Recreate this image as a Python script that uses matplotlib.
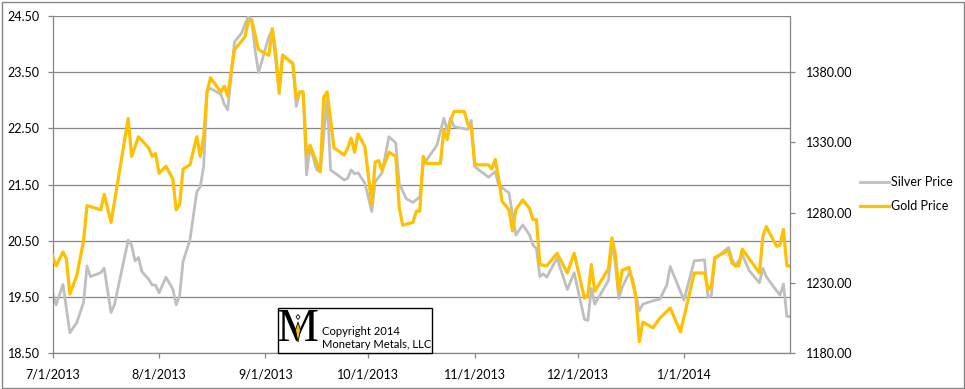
import numpy as np
import matplotlib
matplotlib.use("Agg")
import matplotlib.pyplot as plt
from matplotlib.patches import Rectangle, Polygon
from matplotlib.lines import Line2D
from matplotlib.ticker import FuncFormatter, FixedLocator
import matplotlib.dates as mdates

plt.rcParams['font.family'] = ['Lato', 'DejaVu Sans']

# days after 2013-07-01
silver_day = [0, 1, 3, 5, 7, 9, 10, 11, 14, 15, 17, 18, 22, 23, 24, 25, 26, 28, 29, 30,
              31, 33, 35, 36, 37, 38, 40, 42, 43, 44, 45, 46, 49, 50, 51, 53, 55, 57, 58, 59,
              60, 63, 64, 65, 66, 67, 70, 71, 72, 73, 74, 75, 77, 78, 80, 81, 85, 86, 87, 88,
              89, 91, 93, 94, 96, 98, 100, 101, 103, 105, 107, 108, 112, 114, 115, 116, 117, 121, 122, 123,
              124, 127, 129, 130, 133, 135, 137, 139, 140, 141, 142, 143, 144, 147, 150, 152, 155, 156, 157, 158,
              162, 163, 164, 165, 166, 168, 169, 170, 171, 172, 175, 177, 179, 180, 184, 187, 190, 191, 192, 193,
              197, 198, 199, 201, 203, 206, 207, 208, 210, 212, 213, 214, 215]
silver_price = [19.56, 19.36, 19.72, 18.86, 19.04, 19.40, 20.05, 19.86, 19.93, 20.01, 19.22, 19.36, 20.51, 20.42, 20.14, 20.20, 19.95, 19.81, 19.71, 19.71,
                19.57, 19.85, 19.64, 19.36, 19.52, 20.13, 20.51, 21.37, 21.46, 21.82, 23.18, 23.21, 23.11, 22.93, 22.83, 24.04, 24.19, 24.49, 24.43, 23.89,
                23.49, 24.13, 24.25, 23.72, 23.18, 23.81, 23.66, 22.89, 23.15, 23.13, 21.67, 22.17, 21.76, 21.73, 23.03, 21.76, 21.58, 21.61, 21.76, 21.69,
                21.71, 21.52, 21.02, 21.55, 21.71, 22.35, 22.24, 21.52, 21.25, 21.18, 21.28, 21.85, 22.20, 22.68, 22.47, 22.68, 22.53, 22.48, 22.64, 21.82,
                21.77, 21.63, 21.73, 21.49, 21.35, 20.60, 20.78, 20.60, 20.42, 20.36, 19.86, 19.91, 19.85, 20.19, 19.63, 19.93, 19.10, 19.08, 19.65, 19.37,
                19.79, 20.46, 20.10, 19.47, 19.67, 19.92, 19.83, 19.52, 19.25, 19.37, 19.43, 19.46, 19.71, 20.04, 19.44, 20.14, 20.16, 19.49, 19.53, 20.17,
                20.38, 20.17, 20.05, 20.25, 19.97, 19.75, 20.01, 19.86, 19.69, 19.53, 19.73, 19.15, 19.15]

gold_day = [0, 1, 3, 4, 5, 7, 9, 10, 14, 15, 17, 22, 23, 25, 28, 29, 30, 31, 33, 35,
            36, 37, 38, 40, 42, 43, 44, 45, 46, 49, 50, 51, 53, 56, 57, 58, 60, 63, 64, 65,
            66, 67, 70, 71, 72, 73, 74, 75, 78, 79, 80, 82, 85, 86, 87, 88, 89, 91, 93, 94,
            95, 96, 98, 100, 101, 102, 105, 106, 107, 108, 109, 113, 114, 115, 116, 117, 120, 121, 122, 123,
            124, 127, 128, 129, 130, 131, 133, 134, 135, 137, 139, 140, 141, 142, 144, 147, 150, 152, 155, 156,
            157, 158, 162, 163, 164, 165, 166, 168, 170, 171, 172, 175, 177, 180, 183, 185, 187, 190, 191, 192,
            193, 197, 198, 199, 200, 201, 206, 207, 208, 211, 212, 213, 214, 215]
gold_price = [1249, 1242, 1252, 1247, 1222, 1235, 1260, 1285, 1282, 1293, 1273, 1347, 1320, 1334, 1326, 1320, 1322, 1308, 1313, 1304,
              1282, 1286, 1311, 1314, 1334, 1320, 1334, 1366, 1376, 1366, 1370, 1363, 1396, 1405, 1416, 1417, 1396, 1392, 1411, 1394,
              1365, 1392, 1386, 1361, 1366, 1366, 1321, 1328, 1309, 1362, 1366, 1326, 1321, 1326, 1333, 1323, 1336, 1327, 1286, 1316,
              1317, 1310, 1323, 1320, 1284, 1271, 1273, 1281, 1281, 1320, 1315, 1315, 1339, 1332, 1346, 1352, 1352, 1343, 1341, 1315,
              1314, 1314, 1311, 1318, 1304, 1288, 1282, 1267, 1282, 1289, 1283, 1275, 1275, 1243, 1242, 1251, 1237, 1251, 1219, 1221,
              1243, 1224, 1240, 1262, 1250, 1224, 1239, 1241, 1220, 1188, 1202, 1198, 1205, 1212, 1195, 1216, 1237, 1237, 1225, 1228,
              1248, 1253, 1244, 1242, 1242, 1254, 1237, 1263, 1270, 1256, 1257, 1268, 1242, 1242]

start = np.datetime64('2013-07-01')
end = np.datetime64('2014-02-01')
month_ticks = np.array(['2013-07-01', '2013-08-01', '2013-09-01', '2013-10-01',
                        '2013-11-01', '2013-12-01', '2014-01-01'], dtype='datetime64[D]')
silver_ticks = np.arange(18.5, 24.51, 1.0)
gold_ticks = np.arange(1180, 1381, 50)

silver_dates = start + np.array(silver_day).astype('timedelta64[D]')
gold_dates = start + np.array(gold_day).astype('timedelta64[D]')

W, H = 965, 389
grey = '#868686'
silver_c = '#BFBFBF'
gold_c = '#FFC000'

fig = plt.figure(figsize=(W / 100, H / 100), dpi=100)
ax = fig.add_axes([52.7 / W, 1 - 353 / H, (790.3 - 52.7) / W, (353 - 16) / H])
ax2 = ax.twinx()

ax.plot(silver_dates, silver_price, color=silver_c, lw=2.0, solid_joinstyle='round')
ax2.plot(gold_dates, gold_price, color=gold_c, lw=2.3, solid_joinstyle='round')

ax.set_xlim(start, end)
ax.set_ylim(18.5, 24.5)
ax2.set_ylim(1180, 1420)

ax.xaxis.set_major_locator(FixedLocator(mdates.date2num(month_ticks)))
ax.xaxis.set_major_formatter(FuncFormatter(
    lambda v, p: "{d.month}/{d.day}/{d.year}".format(d=mdates.num2date(v))))
ax.set_yticks(silver_ticks)
ax2.set_yticks(gold_ticks)
ax.yaxis.set_major_formatter(FuncFormatter(lambda v, p: f"{v:.2f}"))
ax2.yaxis.set_major_formatter(FuncFormatter(lambda v, p: f"{v:.2f}"))

ax.grid(axis='y', color=grey, lw=0.9)
ax.set_axisbelow(True)
for a in (ax, ax2):
    for s in a.spines.values():
        s.set_color(grey)
        s.set_linewidth(0.9)
    a.spines['top'].set_visible(False)
ax.spines['right'].set_visible(False)
ax2.spines['left'].set_visible(False)
ax2.spines['bottom'].set_visible(False)

ax.tick_params(axis='x', length=3.5, color=grey, width=0.9, pad=8, labelsize=9)
ax.tick_params(axis='y', length=3.5, color=grey, width=0.9, pad=6, labelsize=9)
ax2.tick_params(axis='y', length=3.5, color=grey, width=0.9, pad=8, labelsize=9)

# legend
handles = [Line2D([], [], color=silver_c, lw=2.0), Line2D([], [], color=gold_c, lw=2.3)]
fig.legend(handles, ['Silver Price', 'Gold Price'], loc='center left',
           bbox_to_anchor=(855 / W, 1 - 194 / H), frameon=False, fontsize=9,
           handlelength=2.3, handletextpad=0.15, labelspacing=0.95, borderaxespad=0)

# copyright box
fig.add_artist(Rectangle((277.7 / W, 1 - 353.3 / H), (432.3 - 277.7) / W, (353.3 - 308.3) / H,
                         transform=fig.transFigure, facecolor='white', edgecolor='black',
                         lw=1, zorder=5))
fig.text(298 / W, 1 - 330 / H, 'M', family=['Liberation Serif'], fontsize=34,
         ha='center', va='center', color='black', zorder=6)
fig.add_artist(Polygon([[298 / W, 1 - 322 / H], [300.5 / W, 1 - 330 / H],
                        [298 / W, 1 - 342 / H], [295.5 / W, 1 - 330 / H]],
                       closed=True, transform=fig.transFigure, facecolor=gold_c,
                       edgecolor='black', lw=0.6, zorder=7))
fig.add_artist(Polygon([[298 / W, 1 - 314.5 / H], [300 / W, 1 - 317 / H],
                        [298 / W, 1 - 319.5 / H], [296 / W, 1 - 317 / H]],
                       closed=True, transform=fig.transFigure, facecolor='white',
                       edgecolor='black', lw=0.6, zorder=7))
fig.text(321.5 / W, 1 - 331.5 / H, 'Copyright 2014', fontsize=8.1, ha='left', va='center', zorder=6)
fig.text(321.5 / W, 1 - 345 / H, 'Monetary Metals, LLC', fontsize=8.1, ha='left', va='center', zorder=6)

# outer chart border
fig.add_artist(Rectangle((1.5 / W, 1.5 / H), (W - 3) / W, (H - 3) / H,
                         transform=fig.transFigure, fill=False, edgecolor=grey, lw=1))

fig.savefig('out.png', dpi=100)
